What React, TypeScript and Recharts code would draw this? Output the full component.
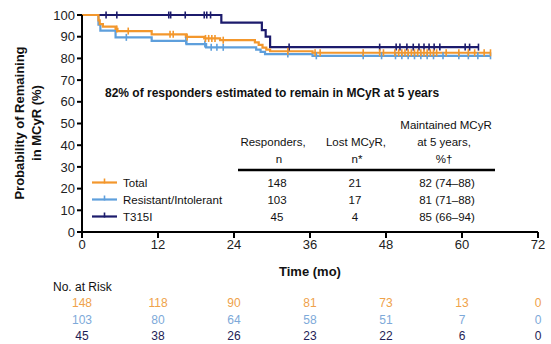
import React from "react";
import { LineChart, Line, XAxis, YAxis } from "recharts";

const FONT = "Arial, 'Liberation Sans', Helvetica, sans-serif";
const ORANGE = "#F3972C";
const LIGHT_BLUE = "#5E9FDC";
const NAVY = "#1C1B6C";

// plot box (px) – chart margins are derived from it
const PLOT = { left: 82, right: 538, top: 15, bottom: 232 };

const xTicks = [0, 12, 24, 36, 48, 60, 72];
const yTicks = [0, 10, 20, 30, 40, 50, 60, 70, 80, 90, 100];

// KM steps: [month, % remaining in MCyR]
const totalSteps = [
  [0, 100], [2.6, 97.5], [2.8, 95.8], [3.3, 94.6], [5.3, 93.6], [5.6, 92.6],
  [11.0, 91.1], [16.4, 89.9], [19.3, 89.2], [21.8, 88.4], [27.3, 87.4],
  [27.9, 86.2], [28.5, 85.0], [29.1, 84.0], [29.7, 83.3], [36.4, 82.6],
];
const totalCensor = [
  5.5, 7.3, 13.9, 14.4, 16.6, 19.5, 20.0, 20.5, 21.0, 22.3, 32.5, 36.8, 37.6,
  44.4, 47.0, 47.6, 49.4, 50.0, 50.5, 51.0, 51.5, 52.0, 52.5, 53.0, 53.5, 54.0,
  54.5, 55.0, 55.5, 56.0, 57.5, 59.5, 61.0, 62.0, 63.5, 64.5,
];
const totalEnd = 64.5;

const riSteps = [
  [0, 100], [2.6, 95.5], [2.9, 92.8], [5.3, 89.7], [11.0, 88.1], [16.5, 86.6],
  [19.6, 85.1], [27.5, 84.0], [28.2, 83.0], [28.9, 82.0], [36.4, 81.2],
];
const riCensor = [
  7.0, 16.4, 19.4, 20.4, 21.3, 22.3, 32.5, 37.0, 44.4, 47.3, 49.5, 50.5, 51.5,
  52.5, 53.5, 54.5, 55.5, 57.0, 59.5, 61.0, 62.5, 64.5,
];
const riEnd = 64.5;

const t315Steps = [[0, 100], [22.0, 96.5], [28.4, 93.0], [29.0, 90.0], [29.7, 85.2]];
const t315Censor = [
  3.8, 5.5, 13.7, 14.0, 16.3, 19.3, 19.7, 20.3, 32.7, 47.0, 49.6, 50.2, 51.3,
  52.3, 53.2, 54.0, 54.8, 55.6, 56.5, 60.5, 61.2, 62.6,
];
const t315End = 62.6;

// legend / table
const groups = ["Total", "Resistant/Intolerant", "T315I"];
const groupColors = [ORANGE, LIGHT_BLUE, NAVY];
const responders = ["148", "103", "45"];
const lostMcyr = ["21", "17", "4"];
const maintained = ["82 (74–88)", "81 (71–88)", "85 (66–94)"];

// numbers at risk
const riskTimes = [0, 12, 24, 36, 48, 60, 72];
const riskTotal = [148, 118, 90, 81, 73, 13, 0];
const riskRI = [103, 80, 64, 58, 51, 7, 0];
const riskT315 = [45, 38, 26, 23, 22, 6, 0];
const riskColors = ["#EFA24A", "#7DA9D9", "#1E1D55"];

type Pt = { t: number; v: number; c: boolean };

function buildCurve(steps: number[][], censor: number[], end: number): Pt[] {
  const level = (t: number) => {
    let v = steps[0][1];
    for (const [s, sv] of steps) if (s <= t) v = sv;
    return v;
  };
  const pts: Pt[] = steps.map(([t, v]) => ({ t, v, c: false }));
  censor.forEach((t) => pts.push({ t, v: level(t), c: true }));
  if (!censor.includes(end)) pts.push({ t: end, v: level(end), c: false });
  return pts.sort((a, b) => a.t - b.t);
}

const censorDot = (color: string) => (props: any) => {
  const { cx, cy, payload, index } = props;
  if (!payload || !payload.c) return <g key={`n${index}`} />;
  return (
    <line
      key={`c${index}`}
      x1={cx}
      x2={cx}
      y1={cy - 3.5}
      y2={cy + 3.5}
      stroke={color}
      strokeWidth={1.6}
    />
  );
};

const xOf = (t: number) => PLOT.left + (t / 72) * (PLOT.right - PLOT.left);

function Overlay() {
  const txt = { fontFamily: FONT, fill: "#111" };
  const rowsY = [182.5, 199.5, 216.5];
  return (
    <svg
      width={551}
      height={344}
      style={{ position: "absolute", left: 0, top: 0, pointerEvents: "none" }}
    >
      {/* y axis title */}
      <g transform="translate(19,123) rotate(-90)">
        <text {...txt} fontSize={13} fontWeight="bold" textAnchor="middle" dominantBaseline="central">
          Probability of Remaining
        </text>
      </g>
      <g transform="translate(36,123) rotate(-90)">
        <text {...txt} fontSize={13} fontWeight="bold" textAnchor="middle" dominantBaseline="central">
          in MCyR (%)
        </text>
      </g>

      <text {...txt} x={105} y={93} fontSize={12} fontWeight="bold" dominantBaseline="central">
        82% of responders estimated to remain in MCyR at 5 years
      </text>

      {/* table header */}
      <g fontSize={11.5} fontFamily={FONT} fill="#111" textAnchor="middle" dominantBaseline="central">
        <text x={446} y={125}>Maintained MCyR</text>
        <text x={273} y={142}>Responders,</text>
        <text x={356} y={142}>Lost MCyR,</text>
        <text x={444} y={142}>at 5 years,</text>
        <text x={279} y={159}>n</text>
        <text x={357} y={159}>n*</text>
        <text x={444} y={159}>%†</text>
      </g>
      <line x1={238} x2={495} y1={170} y2={170} stroke="#000" strokeWidth={2.5} />

      {groups.map((g, i) => (
        <g key={g} fontFamily={FONT} fontSize={11.5} fill="#111" dominantBaseline="central">
          <line x1={92} x2={117} y1={rowsY[i]} y2={rowsY[i]} stroke={groupColors[i]} strokeWidth={2.2} />
          <line x1={104.5} x2={104.5} y1={rowsY[i] - 4} y2={rowsY[i] + 1} stroke={groupColors[i]} strokeWidth={1.6} />
          <text x={123} y={rowsY[i]}>{g}</text>
          <text x={277} y={rowsY[i]} textAnchor="middle">{responders[i]}</text>
          <text x={355} y={rowsY[i]} textAnchor="middle">{lostMcyr[i]}</text>
          <text x={447} y={rowsY[i]} textAnchor="middle">{maintained[i]}</text>
        </g>
      ))}

      <text {...txt} x={310} y={271} fontSize={13} fontWeight="bold" textAnchor="middle" dominantBaseline="central">
        Time (mo)
      </text>

      <text {...txt} x={53} y={287} fontSize={12} dominantBaseline="central">
        No. at Risk
      </text>
      {[riskTotal, riskRI, riskT315].map((row, r) =>
        row.map((n, i) => (
          <text
            key={`${r}-${i}`}
            x={xOf(riskTimes[i])}
            y={303 + r * 16.5}
            fontFamily={FONT}
            fontSize={12}
            fill={riskColors[r]}
            textAnchor="middle"
            dominantBaseline="central"
          >
            {n}
          </text>
        ))
      )}
    </svg>
  );
}

export default function App() {
  const total = buildCurve(totalSteps, totalCensor, totalEnd);
  const ri = buildCurve(riSteps, riCensor, riEnd);
  const t315 = buildCurve(t315Steps, t315Censor, t315End);
  const axisStyle = { stroke: "#000", strokeWidth: 2 };

  return (
    <div style={{ position: "absolute", left: 0, top: 0, width: 551, height: 344, background: "#fff" }}>
      <LineChart
        width={551}
        height={344}
        margin={{ top: PLOT.top, right: 551 - PLOT.right, left: PLOT.left - 60, bottom: 344 - PLOT.bottom - 30 }}
      >
        <XAxis
          type="number"
          dataKey="t"
          domain={[0, 72]}
          ticks={xTicks}
          allowDataOverflow
          height={30}
          tickSize={6}
          axisLine={axisStyle}
          tickLine={axisStyle}
          tick={{ fill: "#222", fontSize: 13, fontFamily: FONT }}
        />
        <YAxis
          type="number"
          domain={[0, 100]}
          ticks={yTicks}
          width={60}
          tickSize={5}
          axisLine={axisStyle}
          tickLine={axisStyle}
          tick={{ fill: "#222", fontSize: 13, fontFamily: FONT }}
        />
        <Line
          data={ri}
          dataKey="v"
          type="stepAfter"
          stroke={LIGHT_BLUE}
          strokeWidth={2.2}
          dot={censorDot(LIGHT_BLUE)}
          activeDot={false}
          isAnimationActive={false}
        />
        <Line
          data={t315}
          dataKey="v"
          type="stepAfter"
          stroke={NAVY}
          strokeWidth={2.2}
          dot={censorDot(NAVY)}
          activeDot={false}
          isAnimationActive={false}
        />
        <Line
          data={total}
          dataKey="v"
          type="stepAfter"
          stroke={ORANGE}
          strokeWidth={2.2}
          dot={censorDot(ORANGE)}
          activeDot={false}
          isAnimationActive={false}
        />
      </LineChart>
      <Overlay />
    </div>
  );
}
